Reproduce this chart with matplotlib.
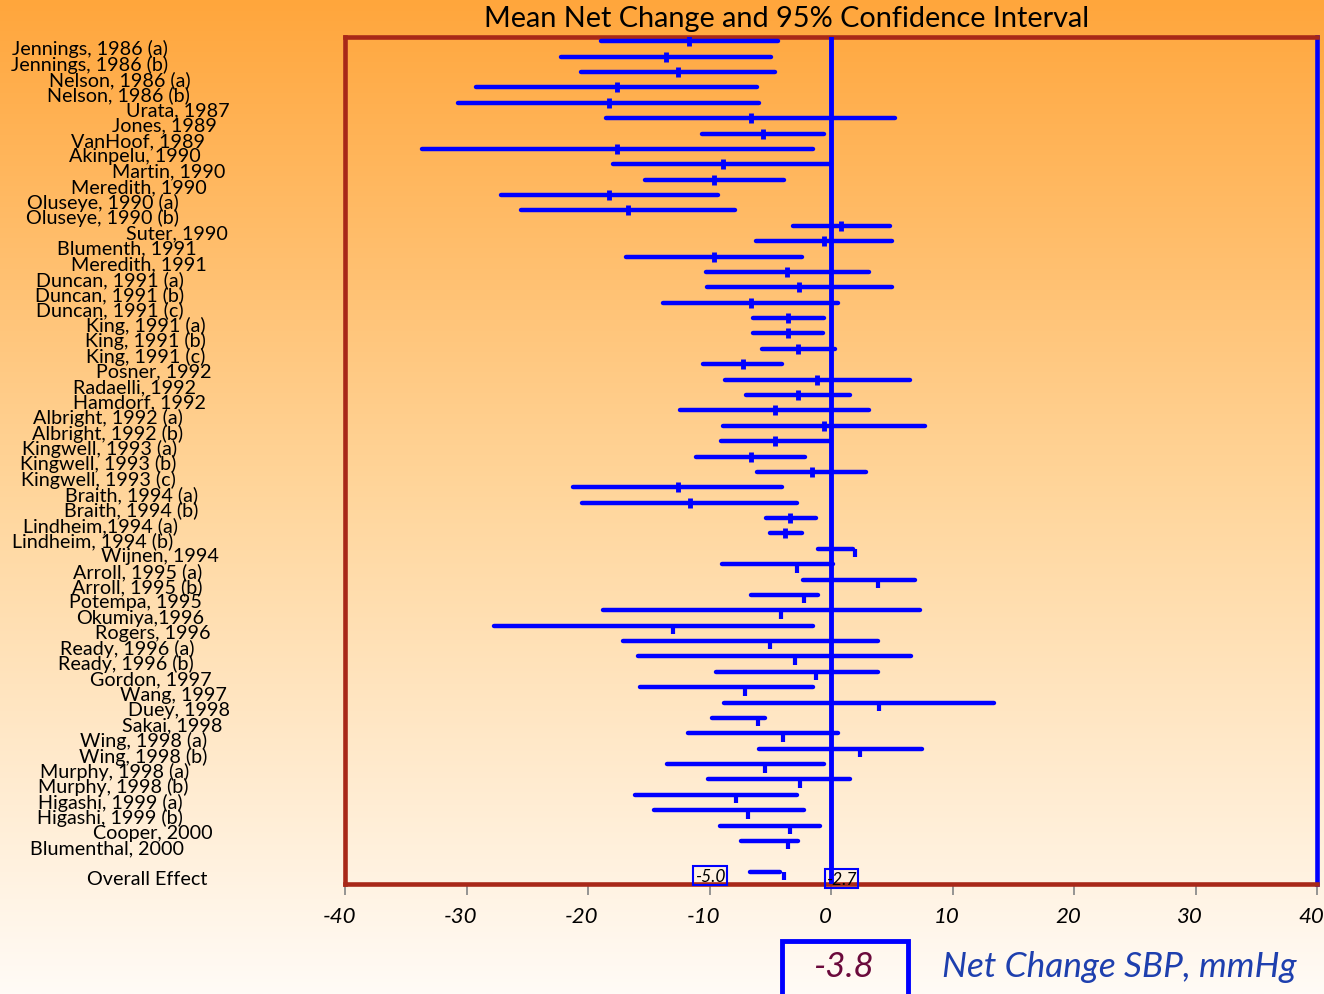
import numpy as np
import matplotlib.pyplot as plt
from matplotlib import transforms
from matplotlib.patches import Rectangle

plt.rcParams['font.family'] = ['Lato', 'DejaVu Sans']

studies = ["Jennings, 1986 (a)", "Jennings, 1986 (b)", "Nelson, 1986 (a)", "Nelson, 1986 (b)",
           "Urata, 1987", "Jones, 1989", "VanHoof, 1989", "Akinpelu, 1990", "Martin, 1990",
           "Meredith, 1990", "Oluseye, 1990 (a)", "Oluseye, 1990 (b)", "Suter, 1990",
           "Blumenth, 1991", "Meredith, 1991", "Duncan, 1991 (a)", "Duncan, 1991 (b)",
           "Duncan, 1991 (c)", "King, 1991 (a)", "King, 1991 (b)", "King, 1991 (c)",
           "Posner, 1992", "Radaelli, 1992", "Hamdorf, 1992", "Albright, 1992 (a)",
           "Albright, 1992 (b)", "Kingwell, 1993 (a)", "Kingwell, 1993 (b)", "Kingwell, 1993 (c)",
           "Braith, 1994 (a)", "Braith, 1994 (b)", "Lindheim,1994 (a)", "Lindheim, 1994 (b)",
           "Wijnen, 1994", "Arroll, 1995 (a)", "Arroll, 1995 (b)", "Potempa, 1995",
           "Okumiya,1996", "Rogers, 1996", "Ready, 1996 (a)", "Ready, 1996 (b)", "Gordon, 1997",
           "Wang, 1997", "Duey, 1998", "Sakai, 1998", "Wing, 1998 (a)", "Wing, 1998 (b)",
           "Murphy, 1998 (a)", "Murphy, 1998 (b)", "Higashi, 1999 (a)", "Higashi, 1999 (b)",
           "Cooper, 2000", "Blumenthal, 2000"]
lower = [-18.9, -22.2, -20.6, -29.2, -30.7, -18.5, -10.6, -33.7, -17.95, -15.3, -27.2, -25.5, -3.1,
         -6.2, -16.85, -10.3, -10.2, -13.8, -6.4, -6.4, -5.65, -10.5, -8.75, -7.0, -12.4, -8.9,
         -9.05, -11.1, -6.1, -21.25, -20.5, -5.35, -5.05, -1.05, -9.0, -2.3, -6.55, -18.75, -27.75,
         -17.1, -15.9, -9.5, -15.7, -8.8, -9.8, -11.75, -5.9, -13.5, -10.1, -16.1, -14.6, -9.1, -7.4]
upper = [-4.35, -4.9, -4.6, -6.1, -5.9, 5.3, -0.6, -1.45, 0.0, -3.9, -9.3, -7.9, 4.85,
         5.0, -2.35, 3.1, 5.05, 0.55, -0.6, -0.65, 0.3, -4.0, 6.5, 1.6, 3.1, 7.7,
         0.0, -2.15, 2.85, -4.0, -2.8, -1.25, -2.35, 1.8, 0.15, 6.9, -1.05, 7.3, -1.45,
         3.9, 6.6, 3.85, -1.45, 13.4, -5.4, 0.55, 7.45, -0.6, 1.6, -2.8, -2.2, -0.9, -2.75]
means = [-11.65, -13.6, -12.6, -17.6, -18.3, -6.6, -5.6, -17.6, -8.9, -9.6, -18.3, -16.7, 0.85,
         -0.6, -9.6, -3.6, -2.6, -6.6, -3.5, -3.55, -2.7, -7.25, -1.15, -2.7, -4.6, -0.6,
         -4.6, -6.6, -1.6, -12.6, -11.6, -3.35, -3.8, 2.0, -2.8, 3.9, -2.25, -4.1, -13.0,
         -5.0, -3.0, -1.2, -7.05, 3.95, -6.0, -3.95, 2.4, -5.4, -2.55, -7.8, -6.8, -3.4, -3.5]
overall_lo, overall_hi, overall_mean = -6.7, -4.2, -3.85
overall_ci_labels = ["-5.0", "-2.7"]
overall_value = "-3.8"
xticks = [-40, -30, -20, -10, 0, 10, 20, 30, 40]

# right edge of each study label, in pixels (the slide has them jittered)
label_right = [168, 168, 191, 190, 230, 217, 205, 201, 225, 207, 179, 179, 228,
               197, 207, 184, 184, 184, 206, 206, 205, 212, 196, 206, 183, 183,
               177, 176, 176, 198, 198, 178, 173, 219, 202, 202, 202, 204, 210,
               194, 194, 212, 227, 230, 222, 207, 207, 189, 189, 183, 183, 213, 184]
overall_right = 207

W, H = 1324, 995
blue = '#0000FF'
red = '#A82818'

fig = plt.figure(figsize=(W / 100, H / 100), dpi=100)

# background gradient
bg = fig.add_axes([0, 0, 1, 1], zorder=-5)
t = np.linspace(0, 1, 400)[:, None]
top = np.array([255, 166, 60]) / 255
mid = np.array([255, 214, 156]) / 255
bot = np.array([255, 251, 246]) / 255
grad = np.where(t < 0.5, top + (mid - top) * (t / 0.5), mid + (bot - mid) * ((t - 0.5) / 0.5))
bg.imshow(grad[:, None, :].repeat(2, axis=1), aspect='auto', extent=[0, 1, 0, 1])
bg.axis('off')

ax = fig.add_axes([345 / W, 1 - 885 / H, (1317 - 345) / W, (885 - 38) / H])
ax.set_facecolor('none')
ax.set_xlim(-40, 40)
ax.set_ylim(54.8, -0.28)

n = len(studies)
for i in range(n):
    ax.plot([lower[i], upper[i]], [i, i], color=blue, lw=3.2, solid_capstyle='round', zorder=3)
    if i < 33:
        ax.plot(means[i], i, marker='|', ms=7, mew=3.5, color=blue, zorder=4)
    else:
        ax.vlines(means[i], i, i + 0.55, color=blue, lw=3, zorder=4)

oy = n + 1
ax.plot([overall_lo, overall_hi], [oy, oy], color=blue, lw=3.2, solid_capstyle='round', zorder=3)
ax.vlines(overall_mean, oy, oy + 0.55, color=blue, lw=3, zorder=4)

ax.axvline(0, color=blue, lw=3.5, zorder=3)

for s in ['left', 'top', 'bottom']:
    ax.spines[s].set_color(red)
    ax.spines[s].set_linewidth(3.3)
ax.spines['right'].set_color(blue)
ax.spines['right'].set_linewidth(3.3)

ax.set_yticks([])
ax.set_xticks(xticks, labels=[str(v) for v in xticks])
ax.tick_params(axis='x', length=8, width=1.3, color='#8c8c8c', pad=8, labelsize=16)
shift = transforms.ScaledTranslation(-6 / 100, 0, fig.dpi_scale_trans)
for lbl in ax.get_xticklabels():
    lbl.set_fontstyle('italic')
    lbl.set_transform(lbl.get_transform() + shift)

trans = transforms.blended_transform_factory(fig.transFigure, ax.transData)
for i in range(n):
    ax.text(label_right[i] / W, i + 0.45, studies[i], transform=trans,
            ha='right', va='center', fontsize=14.2, color='black')
ax.text(overall_right / W, oy + 0.45, "Overall Effect", transform=trans,
        ha='right', va='center', fontsize=14.2, color='black')

# CI boxes of the overall effect
for xv, yv, txt in [(-9.95, oy + 0.25, overall_ci_labels[0]), (0.85, oy + 0.45, overall_ci_labels[1])]:
    ax.text(xv, yv, txt, ha='center', va='center', fontsize=12.5, fontstyle='italic',
            bbox=dict(boxstyle='square,pad=0.08', facecolor='none', edgecolor=blue, lw=1.5),
            zorder=6)

fig.text(787 / W, 1 - 19 / H, "Mean Net Change and 95% Confidence Interval",
         ha='center', va='center', fontsize=20.8, color='black')

fig.add_artist(Rectangle((782 / W, 1 - 1010 / H), (908 - 782) / W, (1010 - 942) / H,
                         transform=fig.transFigure, fill=False, edgecolor=blue, lw=3.5))
fig.text(843 / W, 1 - 967 / H, overall_value, ha='center', va='center',
         fontsize=25, fontstyle='italic', color='#6B0A3C')
fig.text(1297 / W, 1 - 967 / H, "Net Change SBP, mmHg", ha='right', va='center',
         fontsize=25.4, fontstyle='italic', color='#1E3FAE')

fig.savefig('out.png', dpi=100)
